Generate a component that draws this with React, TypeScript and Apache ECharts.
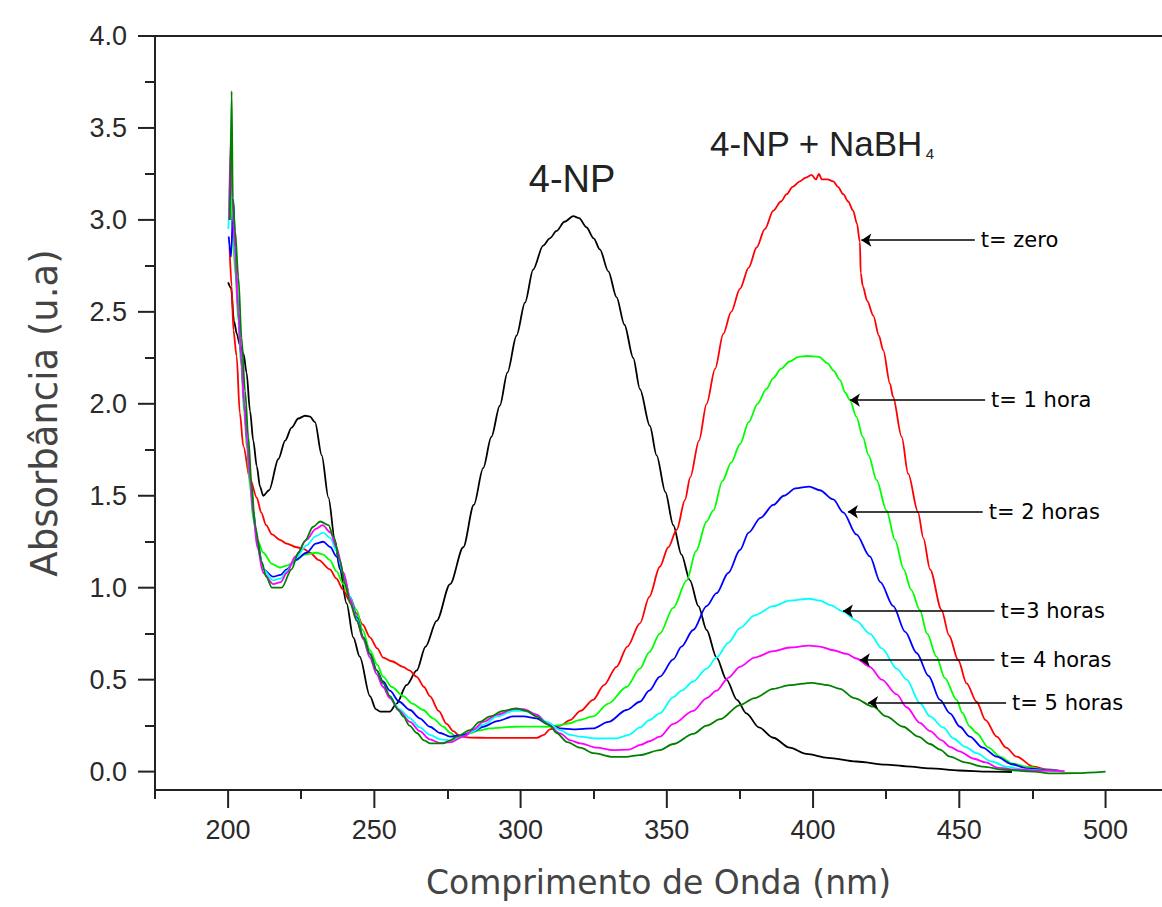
import { useEffect, useRef } from "react";
import * as echarts from "echarts";

// ---- data (wavelength nm, absorbance) ----
const black4NP: [number, number][] = [
  [200, 2.66], [201, 2.63], [202, 2.45], [203, 2.38], [204, 2.32], [205.3, 2.27], [206.3, 2.17], [207.5, 1.96],
  [208.6, 1.8], [209.8, 1.66], [210.9, 1.55], [212, 1.5], [214, 1.53], [217.2, 1.7], [219.5, 1.8], [221.7, 1.87],
  [224, 1.92], [226.3, 1.935], [228, 1.93], [229.7, 1.9], [232, 1.72], [234.3, 1.49], [236.5, 1.26], [238.2, 1.1],
  [240.5, 0.915], [242.8, 0.73], [245, 0.625], [248.5, 0.41], [250.5, 0.34], [252, 0.326], [255.3, 0.326],
  [257.6, 0.37], [261, 0.47], [264.5, 0.55], [267.5, 0.68], [271.3, 0.82], [275.9, 1.02], [280.4, 1.22],
  [284, 1.45], [287.2, 1.65], [290, 1.82], [292.9, 1.99], [295.5, 2.17], [298.6, 2.37], [301.5, 2.55],
  [304.3, 2.73], [307.7, 2.86], [310, 2.9], [312.3, 2.94], [315, 2.99], [318, 3.02], [320, 3.01], [322.5, 2.96],
  [325, 2.9], [327.1, 2.84], [330, 2.72], [332.8, 2.58], [335.5, 2.43], [338.5, 2.25], [340.8, 2.08],
  [344.2, 1.88], [346.5, 1.72], [349.5, 1.52], [352.2, 1.34], [355, 1.18], [357.9, 1.04], [360.8, 0.9],
  [363.6, 0.77], [367, 0.62], [370.4, 0.5], [374, 0.39], [377.2, 0.317], [381.5, 0.24], [386.4, 0.184],
  [392, 0.13], [397.7, 0.096], [405, 0.075], [414.8, 0.055], [425, 0.038], [431.9, 0.029], [440, 0.018],
  [450, 0.006], [460, 0.0], [468, -0.002],
];

const redT0: [number, number][] = [
  [200.5, 2.85], [201.2, 2.64], [201.8, 2.4], [202.9, 2.26], [204, 1.95], [205.2, 1.77], [207.5, 1.59],
  [209.8, 1.49], [211.3, 1.41], [213, 1.34], [215, 1.29], [217.7, 1.26], [220, 1.24], [223.4, 1.22], [226, 1.21],
  [228, 1.19], [231, 1.15], [234.8, 1.1], [237, 1.05], [239.3, 0.99], [241.5, 0.93], [243.9, 0.86], [246, 0.8],
  [248.5, 0.73], [251, 0.67], [253, 0.62], [256, 0.6], [259.8, 0.57], [262, 0.55], [264.5, 0.515], [267, 0.46],
  [269, 0.41], [272, 0.33], [274.7, 0.26], [277, 0.22], [279.3, 0.19], [282.7, 0.185], [290, 0.183],
  [300, 0.183], [305.5, 0.183], [308, 0.2], [310, 0.23], [313.5, 0.25], [316.9, 0.28], [320.5, 0.33],
  [324.8, 0.39], [328.5, 0.47], [332.8, 0.57], [336.5, 0.68], [340.8, 0.806], [344, 0.95], [347.6, 1.114],
  [350.5, 1.22], [353.4, 1.316], [356.2, 1.477], [358, 1.6], [361, 1.8], [363.6, 2.0], [366.5, 2.19],
  [369.3, 2.38], [372, 2.5], [375, 2.625], [378, 2.74], [380.7, 2.85], [383.5, 2.95], [386.4, 3.05], [389, 3.1],
  [391, 3.14], [393, 3.18], [395.5, 3.21], [397.5, 3.23], [399.5, 3.245], [401, 3.22], [402, 3.25], [403, 3.22],
  [405, 3.22], [406.9, 3.21], [408.5, 3.18], [410.3, 3.14], [412, 3.1], [413.7, 3.05], [415, 2.98], [416, 2.88],
  [416.3, 2.71], [417, 2.64], [418.5, 2.56], [420.6, 2.48], [422.5, 2.37], [424, 2.29], [426.3, 2.11],
  [427.3, 2.04], [430.3, 1.82], [432.5, 1.62], [435.9, 1.41], [437.7, 1.27], [440, 1.1], [443.9, 0.88],
  [446.5, 0.74], [449.6, 0.607], [452.5, 0.48], [455.9, 0.38], [459, 0.28], [462.8, 0.19], [466, 0.13],
  [469.6, 0.081], [475.3, 0.027], [480, 0.012], [484, 0.005],
];

const greenT1: [number, number][] = [
  [200.5, 3.0], [201, 3.3], [201.5, 2.95], [202.5, 2.7], [203.5, 2.45], [204.5, 2.2], [205.5, 1.95],
  [206.5, 1.75], [207.5, 1.55], [208.6, 1.37], [210, 1.26], [212, 1.19], [215, 1.13], [217.7, 1.11], [220, 1.12],
  [223.4, 1.15], [226, 1.18], [230.3, 1.19], [232.5, 1.18], [234.8, 1.15], [237, 1.09], [239.4, 1.02],
  [241.5, 0.95], [243.9, 0.88], [246, 0.77], [248.5, 0.66], [251, 0.58], [253, 0.516], [256, 0.46],
  [259.9, 0.41], [263, 0.37], [266.7, 0.335], [270, 0.29], [273.6, 0.244], [276, 0.21], [278.2, 0.19],
  [280.5, 0.2], [282.7, 0.208], [286, 0.225], [289.5, 0.235], [297.5, 0.244], [305, 0.245], [308.9, 0.244],
  [313.5, 0.253], [316.9, 0.263], [320, 0.28], [324.8, 0.3], [330, 0.37], [336.2, 0.46], [340.8, 0.56],
  [344, 0.65], [347.6, 0.75], [352.2, 0.89], [356.8, 1.04], [360, 1.2], [363.6, 1.36], [365.9, 1.42],
  [369, 1.58], [372, 1.68], [375, 1.78], [378, 1.9], [381, 2.0], [384, 2.08], [386.4, 2.14], [389, 2.19],
  [392, 2.23], [395, 2.255], [398, 2.26], [402, 2.255], [405, 2.22], [407, 2.18], [409.2, 2.13], [411, 2.06],
  [412.6, 2.02], [414.8, 1.93], [417, 1.82], [419, 1.72], [421.7, 1.586], [425.1, 1.42], [428, 1.26],
  [431, 1.1], [433.5, 0.99], [436.5, 0.88], [439, 0.75], [442.2, 0.625], [445, 0.51], [449.1, 0.39],
  [451, 0.32], [453.6, 0.244], [455.9, 0.21], [460, 0.13], [463.9, 0.081], [468, 0.045], [473, 0.027],
  [480, 0.009], [484, 0.004],
];

const blueT2: [number, number][] = [
  [200.2, 2.91], [201, 2.8], [201.8, 3.11], [202.5, 2.8], [203.5, 2.5], [204.5, 2.25], [205.5, 2.0],
  [206.5, 1.8], [207.5, 1.6], [208.6, 1.42], [210, 1.25], [212, 1.1], [215.4, 1.06], [218, 1.07], [220, 1.1],
  [223, 1.15], [226.8, 1.19], [230, 1.24], [232.5, 1.25], [235, 1.22], [237, 1.17], [239.5, 1.06],
  [241.7, 0.95], [244, 0.84], [246.2, 0.73], [248.5, 0.64], [250.8, 0.55], [253, 0.49], [255.3, 0.44],
  [258.5, 0.38], [262.2, 0.335], [265.5, 0.29], [269, 0.244], [272.5, 0.21], [275.9, 0.19], [280.4, 0.2],
  [284, 0.22], [287.2, 0.244], [292, 0.275], [297.5, 0.3], [301, 0.3], [305.5, 0.29], [309, 0.26],
  [313.5, 0.235], [318, 0.23], [324.8, 0.235], [330, 0.27], [336.2, 0.335], [340.8, 0.38], [344, 0.44],
  [347.6, 0.516], [352.2, 0.61], [355, 0.68], [359, 0.77], [363.6, 0.9], [367, 0.97], [371, 1.08],
  [375, 1.205], [378, 1.3], [382, 1.38], [386.4, 1.45], [390, 1.5], [394, 1.54], [398.7, 1.55], [402.3, 1.53],
  [406.9, 1.48], [410.3, 1.41], [414.8, 1.29], [419.4, 1.17], [423, 1.03], [427.4, 0.9], [431.5, 0.76],
  [435.4, 0.645], [439.5, 0.52], [443.4, 0.39], [446.8, 0.317], [450.2, 0.244], [453.6, 0.19], [458, 0.13],
  [462.8, 0.081], [468, 0.04], [473, 0.018], [480, 0.008], [485, 0.004],
];

const cyanT3: [number, number][] = [
  [200.1, 2.95], [201, 3.32], [201.8, 2.98], [202.5, 2.78], [203.5, 2.5], [204.5, 2.25], [205.5, 2.0],
  [206.5, 1.8], [207.5, 1.6], [208.6, 1.4], [210, 1.22], [212, 1.1], [215.4, 1.04], [218, 1.05], [220, 1.09],
  [223, 1.16], [226.8, 1.23], [230, 1.28], [232.5, 1.3], [235, 1.27], [237, 1.2], [239.5, 1.07], [241.7, 0.95],
  [244, 0.83], [246.2, 0.72], [248.5, 0.62], [250.8, 0.53], [253, 0.46], [255.3, 0.41], [258.5, 0.34],
  [262.2, 0.29], [265.5, 0.24], [269, 0.2], [272.5, 0.175], [276, 0.17], [280.4, 0.19], [284, 0.22],
  [287.2, 0.255], [292, 0.3], [297.5, 0.33], [301, 0.33], [305.5, 0.31], [309, 0.27], [313.5, 0.226],
  [317, 0.2], [320.4, 0.19], [326, 0.18], [332.8, 0.181], [337, 0.2], [340.8, 0.24], [344, 0.28],
  [347.6, 0.317], [352.2, 0.405], [355, 0.44], [359, 0.49], [363.6, 0.56], [367, 0.62], [371, 0.7], [375, 0.78],
  [380, 0.85], [386.4, 0.9], [392, 0.93], [398.7, 0.94], [402.3, 0.93], [406, 0.905], [410.3, 0.87],
  [414.8, 0.82], [419.4, 0.75], [423.5, 0.67], [428.6, 0.56], [432, 0.5], [436.5, 0.373], [440, 0.3],
  [444.5, 0.24], [448, 0.18], [452, 0.135], [455.9, 0.1], [461, 0.055], [466.1, 0.027], [472, 0.012],
  [480, 0.005], [485, 0.003],
];

const magentaT4: [number, number][] = [
  [200.3, 3.0], [200.8, 3.4], [201.5, 3.1], [202.3, 2.85], [203.5, 2.5], [204.5, 2.25], [205.5, 2.0],
  [206.5, 1.8], [207.5, 1.6], [208.6, 1.4], [210, 1.22], [212, 1.08], [215.4, 1.02], [218, 1.03], [220, 1.08],
  [223, 1.17], [226.8, 1.26], [230, 1.32], [232.3, 1.34], [235, 1.3], [237, 1.22], [239.5, 1.08], [241.7, 0.94],
  [244, 0.82], [246.2, 0.72], [248.5, 0.62], [250.8, 0.53], [253, 0.46], [255.3, 0.4], [258.5, 0.33],
  [262.2, 0.27], [265.5, 0.22], [269, 0.175], [272.5, 0.155], [276, 0.16], [280.4, 0.19], [284, 0.23],
  [287.2, 0.27], [292, 0.31], [297.5, 0.34], [301, 0.34], [305.5, 0.31], [309, 0.26], [313.5, 0.208],
  [317, 0.17], [320.4, 0.154], [326, 0.13], [331.6, 0.117], [337, 0.12], [341, 0.145], [344, 0.165],
  [347.6, 0.19], [352.2, 0.26], [359, 0.33], [363.6, 0.4], [367, 0.44], [371, 0.51], [375, 0.57], [380, 0.62],
  [386.4, 0.655], [392, 0.675], [398.7, 0.685], [402.3, 0.68], [406.9, 0.66], [411.5, 0.64], [414.8, 0.615],
  [419.4, 0.57], [423.5, 0.5], [428.6, 0.42], [432, 0.35], [436.5, 0.265], [440, 0.22], [444, 0.17],
  [446.8, 0.135], [450, 0.11], [455, 0.07], [459, 0.05], [463.5, 0.02], [470, 0.01], [478, 0.005], [486, 0.003],
];

const darkGreenT5: [number, number][] = [
  [200.6, 3.0], [201.2, 3.7], [201.6, 3.12], [202.4, 2.94], [203.5, 2.69], [204.6, 2.36], [205.8, 2.07],
  [206.9, 1.82], [208, 1.57], [209.2, 1.335], [211.5, 1.14], [213, 1.06], [215, 1.0], [218.3, 1.0],
  [221.7, 1.1], [224, 1.19], [226.3, 1.255], [229, 1.33], [231.5, 1.36], [234.3, 1.34], [236, 1.28],
  [238.2, 1.15], [240, 1.02], [241.7, 0.915], [244, 0.82], [246.2, 0.73], [248.5, 0.64], [250.8, 0.55],
  [253, 0.48], [255.3, 0.41], [258, 0.34], [259.9, 0.3], [262, 0.25], [264.5, 0.21], [267, 0.17],
  [269, 0.154], [273.6, 0.154], [276, 0.17], [278.2, 0.19], [282.7, 0.226], [286, 0.27], [289.5, 0.3],
  [294, 0.33], [298.6, 0.344], [302, 0.33], [305.5, 0.3], [308, 0.27], [310, 0.25], [312.3, 0.21], [316, 0.16],
  [320.4, 0.13], [325, 0.1], [331.6, 0.08], [336, 0.08], [340.8, 0.09], [347.6, 0.117], [352.2, 0.15],
  [359, 0.205], [363.6, 0.25], [368.2, 0.285], [375, 0.362], [380, 0.4], [386.4, 0.45], [392, 0.47],
  [399.5, 0.483], [405, 0.47], [409.2, 0.45], [414, 0.4], [420.6, 0.353], [425, 0.3], [430.8, 0.244],
  [436, 0.19], [440, 0.15], [443.4, 0.12], [446.8, 0.081], [452, 0.05], [458.2, 0.027], [465, 0.01],
  [475.3, 0.0], [482, -0.01], [490, -0.008], [500, 0.0],
];

// arrows "t= ..." : tip wavelength, tail wavelength, absorbance level, text
const arrowTip = [416.5, 412.6, 411.9, 410.2, 416.0, 418.8];
const arrowTail = [455.3, 458.8, 458.0, 462.0, 462.0, 466.0];
const arrowLevel = [2.89, 2.02, 1.413, 0.873, 0.607, 0.375];
const arrowText = ["t= zero", "t= 1 hora", "t= 2 horas", "t=3 horas", "t= 4 horas", "t= 5 horas"];

const xMajorTicks = [200, 250, 300, 350, 400, 450, 500];
const xMinorTicks = [175, 225, 275, 325, 375, 425, 475];
const yMajorTicks = [0, 0.5, 1, 1.5, 2, 2.5, 3, 3.5, 4];
const yMinorTicks = [0.25, 0.75, 1.25, 1.75, 2.25, 2.75, 3.25, 3.75];

const X_MIN = 175;
const X_MAX = 519.3;
const Y_MIN = -0.1;
const Y_MAX = 4.0;

const FONT = "Liberation Sans, Arial, sans-serif";
const WIDE = "DejaVu Sans, sans-serif";
const AX = "#222";
const X_MAJOR_LEN = 18;
const Y_MAJOR_LEN = 17;

function arrowMark(i: number) {
  return {
    silent: true,
    symbol: ["arrow", "none"],
    symbolSize: 10,
    lineStyle: { color: "#000", width: 1.6, type: "solid" },
    label: {
      show: true,
      position: "end",
      distance: 6,
      formatter: arrowText[i],
      color: "#000",
      fontSize: 21,
      fontFamily: WIDE,
    },
    data: [[{ coord: [arrowTip[i], arrowLevel[i]] }, { coord: [arrowTail[i], arrowLevel[i]] }]],
  };
}

function line(name: string, data: [number, number][], color: string, mark?: any, extra?: any) {
  return {
    name,
    type: "line",
    xAxisIndex: 0,
    yAxisIndex: 0,
    data,
    showSymbol: false,
    symbol: "none",
    smooth: 0.3,
    smoothMonotone: "x",
    lineStyle: { color, width: 1.8 },
    itemStyle: { color },
    markLine: mark,
    ...(extra || {}),
  };
}

export default function App() {
  const ref = useRef<HTMLDivElement>(null);
  useEffect(() => {
    if (!ref.current) return;
    const chart = echarts.init(ref.current, undefined, { renderer: "svg" });
    const mainRect = { left: 155, right: 0, top: 36, bottom: 117 };

    chart.setOption({
      animation: false,
      backgroundColor: "#fff",
      grid: [{ ...mainRect }, { ...mainRect }],
      xAxis: [
        {
          type: "value",
          min: X_MIN,
          max: X_MAX,
          gridIndex: 0,
          position: "bottom",
          name: "Comprimento de Onda (nm)",
          nameLocation: "middle",
          nameGap: 76,
          nameTextStyle: { fontSize: 33, color: "#444", fontFamily: WIDE },
          axisLine: { show: true, onZero: false, lineStyle: { color: AX, width: 2 } },
          axisTick: { show: false },
          axisLabel: { show: true, customValues: [...xMajorTicks], margin: 26, fontSize: 27, color: "#2a2a2a", fontFamily: FONT },
          splitLine: { show: false },
        },
        {
          type: "value",
          min: X_MIN,
          max: X_MAX,
          gridIndex: 0,
          position: "top",
          axisLine: { show: true, onZero: false, lineStyle: { color: AX, width: 2 } },
          axisTick: { show: false },
          axisLabel: { show: false },
          splitLine: { show: false },
        },
        {
          type: "value",
          min: X_MIN,
          max: X_MAX,
          gridIndex: 1,
          position: "bottom",
          axisLine: { show: false, onZero: false },
          axisTick: { show: true, inside: false, length: 9, customValues: [...xMinorTicks], lineStyle: { color: AX, width: 2 } },
          axisLabel: { show: false },
          splitLine: { show: false },
        },
      ],
      yAxis: [
        {
          type: "value",
          min: Y_MIN,
          max: Y_MAX,
          gridIndex: 0,
          position: "left",
          name: "Absorbância (u.a)",
          nameLocation: "middle",
          nameGap: 92,
          nameRotate: 90,
          nameTextStyle: { fontSize: 37, color: "#444", fontFamily: WIDE },
          axisLine: { show: true, onZero: false, lineStyle: { color: AX, width: 2 } },
          axisTick: { show: false },
          axisLabel: {
            show: true,
            customValues: [...yMajorTicks],
            margin: 28,
            fontSize: 27,
            color: "#2a2a2a",
            fontFamily: FONT,
            formatter: (v: number) => v.toFixed(1),
          },
          splitLine: { show: false },
        },
        {
          type: "value",
          min: Y_MIN,
          max: Y_MAX,
          gridIndex: 1,
          position: "left",
          axisLine: { show: false, onZero: false },
          axisTick: { show: true, inside: false, length: 10, customValues: [...yMinorTicks], lineStyle: { color: AX, width: 2 } },
          axisLabel: { show: false },
          splitLine: { show: false },
        },
      ],
      series: [
        line("4-NP", black4NP, "#000000", undefined, {
          markPoint: {
            silent: true,
            symbol: "circle",
            symbolSize: 0,
            label: { show: true, position: "inside", color: "#222", fontFamily: FONT },
            data: [
              { coord: [317.6, 3.22], label: { formatter: "4-NP", fontSize: 38 } },
              {
                coord: [403, 3.43],
                label: {
                  formatter: "{m|4-NP + NaBH}{s|4}",
                  rich: {
                    m: { fontSize: 35, color: "#222", fontFamily: FONT, verticalAlign: "bottom", lineHeight: 40 },
                    s: { fontSize: 15, color: "#222", fontFamily: FONT, verticalAlign: "bottom", lineHeight: 15, padding: [32, 0, 0, 3] },
                  },
                },
              },
            ],
          },
        }),
        line("t= zero", redT0, "#ff0000", arrowMark(0)),
        line("t= 1 hora", greenT1, "#00ff00", arrowMark(1)),
        line("t= 2 horas", blueT2, "#0000ff", arrowMark(2)),
        line("t=3 horas", cyanT3, "#00ffff", arrowMark(3)),
        line("t= 4 horas", magentaT4, "#ff00ff", arrowMark(4)),
        line("t= 5 horas", darkGreenT5, "#008000", arrowMark(5)),
      ],
    });

    // major ticks placed through the chart's own scales
    const tickEls: any[] = [];
    xMajorTicks.forEach((v) => {
      const p = chart.convertToPixel({ gridIndex: 0 }, [v, Y_MIN]) as number[];
      if (p && isFinite(p[0])) {
        tickEls.push({
          type: "line",
          silent: true,
          shape: { x1: p[0], y1: p[1], x2: p[0], y2: p[1] + X_MAJOR_LEN },
          style: { stroke: AX, lineWidth: 2 },
        });
      }
    });
    yMajorTicks.forEach((v) => {
      const p = chart.convertToPixel({ gridIndex: 0 }, [X_MIN, v]) as number[];
      if (p && isFinite(p[1])) {
        tickEls.push({
          type: "line",
          silent: true,
          shape: { x1: p[0] - Y_MAJOR_LEN, y1: p[1], x2: p[0], y2: p[1] },
          style: { stroke: AX, lineWidth: 2 },
        });
      }
    });
    chart.setOption({ graphic: tickEls });

    return () => chart.dispose();
  }, []);
  return (
    <div
      ref={ref}
      style={{ position: "absolute", left: 0, top: 0, width: 1162, height: 907, background: "#fff" }}
    />
  );
}
